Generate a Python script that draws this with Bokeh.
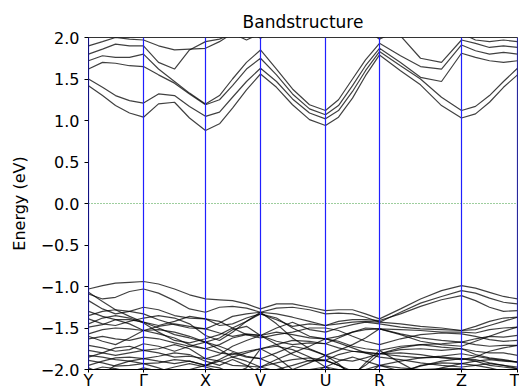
from bokeh.plotting import figure
from bokeh.models import Span, FixedTicker, CustomJSTickFormatter, Range1d
from bokeh.embed import file_html
from bokeh.resources import INLINE

# high-symmetry points
k_labels = ["Y", "Γ", "X", "V", "U", "R", "Z", "T"]
k_ticks = [0.0, 0.55, 1.17, 1.72, 2.37, 2.91, 3.73, 4.29]

# sampled k path (Y .. T)
k_path = [0.00, 0.14, 0.27, 0.41, 0.55, 0.70, 0.86, 1.01, 1.17, 1.31, 1.44, 1.58,
          1.72, 1.88, 2.04, 2.21, 2.37, 2.50, 2.64, 2.77, 2.91, 3.12, 3.32, 3.53,
          3.73, 3.87, 4.01, 4.15, 4.29]

cb1 = [1.42, 1.30, 1.18, 1.09, 1.04, 1.20, 1.22, 1.03, 0.88, 0.96, 1.15, 1.37, 1.56, 1.40, 1.19, 1.01,
       0.94, 1.04, 1.27, 1.54, 1.79, 1.60, 1.43, 1.18, 1.03, 1.08, 1.22, 1.40, 1.55]
cb2 = [1.50, 1.40, 1.30, 1.24, 1.21, 1.32, 1.30, 1.17, 1.05, 1.10, 1.28, 1.47, 1.63, 1.47, 1.26, 1.09,
       1.02, 1.12, 1.35, 1.60, 1.83, 1.66, 1.50, 1.28, 1.12, 1.17, 1.30, 1.47, 1.63]
cb3 = [1.62, 1.70, 1.69, 1.66, 1.65, 1.55, 1.45, 1.32, 1.19, 1.25, 1.42, 1.62, 1.75, 1.55, 1.32, 1.14,
       1.07, 1.18, 1.42, 1.66, 1.87, 1.70, 1.52, 1.47, 1.81, 1.76, 1.72, 1.70, 1.72]
cb4 = [1.72, 1.78, 1.76, 1.76, 1.80, 1.62, 1.47, 1.33, 1.20, 1.30, 1.50, 1.70, 1.85, 1.62, 1.38, 1.19,
       1.12, 1.25, 1.50, 1.73, 1.93, 1.78, 1.65, 1.62, 1.91, 1.84, 1.80, 1.82, 1.80]
cb5 = [1.80, 1.86, 1.92, 1.90, 1.90, 1.70, 1.62, 1.85, 1.95, 1.98, 2.05, 1.97, 2.05, 2.20, 2.40, 2.50,
       2.50, 2.50, 2.40, 2.20, 2.30, 2.02, 1.75, 1.70, 1.97, 1.93, 1.88, 1.90, 1.88]
cb6 = [1.90, 1.95, 2.00, 1.98, 1.97, 1.90, 1.85, 1.86, 1.87, 1.95, 2.05, 2.10, 1.99, 2.10, 2.30, 2.50,
       2.50, 2.50, 2.30, 2.10, 1.98, 2.10, 2.20, 2.10, 2.05, 1.97, 1.95, 1.97, 1.95]
conduction_bands = [cb1, cb2, cb3, cb4, cb5, cb6]

vb1 = [-1.03, -0.99, -0.96, -0.95, -0.94, -0.97, -1.03, -1.10, -1.15, -1.16, -1.17, -1.21, -1.27, -1.21, -1.21, -1.25,
       -1.29, -1.28, -1.28, -1.33, -1.39, -1.27, -1.15, -1.05, -0.99, -1.02, -1.07, -1.12, -1.15]
vb2 = [-1.09, -1.15, -1.13, -1.06, -1.03, -1.08, -1.17, -1.27, -1.31, -1.25, -1.24, -1.26, -1.31, -1.26, -1.25, -1.28,
       -1.33, -1.32, -1.33, -1.37, -1.43, -1.31, -1.20, -1.12, -1.05, -1.08, -1.14, -1.19, -1.21]
vb3 = [-1.17, -1.27, -1.33, -1.30, -1.25, -1.28, -1.35, -1.38, -1.39, -1.47, -1.45, -1.38, -1.33, -1.40, -1.48, -1.45,
       -1.47, -1.42, -1.40, -1.40, -1.41, -1.33, -1.24, -1.16, -1.11, -1.17, -1.25, -1.30, -1.29]
vb4 = [-1.35, -1.30, -1.28, -1.30, -1.33, -1.40, -1.46, -1.50, -1.51, -1.56, -1.60, -1.57, -1.59, -1.50, -1.43, -1.52,
       -1.55, -1.50, -1.46, -1.43, -1.45, -1.49, -1.51, -1.52, -1.53, -1.48, -1.42, -1.38, -1.37]
vb5 = [-1.39, -1.45, -1.47, -1.42, -1.38, -1.35, -1.38, -1.45, -1.59, -1.65, -1.55, -1.42, -1.33, -1.38, -1.50, -1.60,
       -1.63, -1.60, -1.55, -1.52, -1.51, -1.52, -1.53, -1.55, -1.55, -1.56, -1.52, -1.50, -1.49]
vb6 = [-1.49, -1.46, -1.40, -1.40, -1.43, -1.50, -1.58, -1.62, -1.67, -1.62, -1.52, -1.48, -1.59, -1.66, -1.70, -1.68,
       -1.69, -1.62, -1.55, -1.50, -1.51, -1.57, -1.62, -1.65, -1.67, -1.63, -1.60, -1.61, -1.59]
vb7 = [-1.57, -1.52, -1.50, -1.51, -1.53, -1.57, -1.62, -1.70, -1.75, -1.70, -1.62, -1.58, -1.59, -1.55, -1.58, -1.62,
       -1.63, -1.66, -1.72, -1.75, -1.77, -1.72, -1.70, -1.69, -1.67, -1.70, -1.72, -1.71, -1.71]
vb8 = [-1.63, -1.60, -1.63, -1.65, -1.61, -1.63, -1.68, -1.72, -1.75, -1.80, -1.82, -1.78, -1.75, -1.70, -1.65, -1.66,
       -1.69, -1.74, -1.78, -1.79, -1.81, -1.76, -1.75, -1.77, -1.75, -1.78, -1.80, -1.80, -1.83]
vb9 = [-1.71, -1.74, -1.78, -1.76, -1.69, -1.72, -1.78, -1.72, -1.67, -1.72, -1.78, -1.84, -1.87, -1.80, -1.72, -1.76,
       -1.83, -1.88, -1.90, -1.86, -1.81, -1.84, -1.86, -1.84, -1.81, -1.84, -1.87, -1.89, -1.91]
vb10 = [-1.77, -1.80, -1.83, -1.80, -1.77, -1.80, -1.85, -1.84, -1.87, -1.90, -1.95, -1.96, -1.97, -1.92, -1.88, -1.86,
        -1.89, -1.95, -2.02, -2.00, -1.95, -1.90, -1.86, -1.85, -1.87, -1.90, -1.95, -1.97, -1.99]
vb11 = [-1.83, -1.85, -1.88, -1.90, -1.87, -1.90, -1.93, -1.90, -1.95, -1.98, -2.05, -1.98, -1.75, -1.72, -1.76, -1.85,
        -1.97, -2.05, -2.10, -2.05, -2.10, -2.05, -1.95, -1.92, -1.93, -1.95, -1.98, -2.02, -2.05]
vb12 = [-1.89, -1.92, -1.96, -1.95, -1.93, -1.92, -1.88, -1.90, -1.95, -1.90, -1.85, -1.80, -1.75, -1.85, -2.00, -1.92,
        -1.83, -1.93, -2.08, -1.92, -1.77, -1.92, -2.05, -1.98, -1.93, -1.90, -1.88, -1.90, -1.91]
vb13 = [-1.95, -1.90, -1.86, -1.85, -1.87, -1.84, -1.80, -1.82, -1.90, -1.95, -1.88, -1.95, -2.05, -2.00, -1.95, -1.89,
        -1.89, -1.82, -1.78, -1.80, -1.85, -1.88, -1.92, -1.95, -1.97, -1.95, -1.93, -1.95, -1.97]
vb14 = [-2.02, -1.97, -1.99, -2.03, -1.98, -2.02, -1.97, -1.93, -1.97, -2.02, -2.08, -2.05, -1.97, -2.02, -2.10, -2.05,
        -1.97, -2.00, -2.05, -2.08, -1.95, -1.98, -2.00, -1.99, -1.99, -2.02, -2.00, -2.02, -2.03]
vb15 = [-1.07, -1.18, -1.28, -1.36, -1.43, -1.47, -1.42, -1.36, -1.39, -1.42, -1.50, -1.58, -1.62, -1.58, -1.55, -1.50,
        -1.50, -1.53, -1.60, -1.66, -1.70, -1.63, -1.58, -1.56, -1.57, -1.60, -1.64, -1.66, -1.65]
vb16 = [-1.45, -1.38, -1.35, -1.38, -1.44, -1.55, -1.65, -1.68, -1.63, -1.58, -1.50, -1.42, -1.31, -1.45, -1.62, -1.75,
        -1.83, -1.77, -1.70, -1.62, -1.51, -1.58, -1.66, -1.70, -1.72, -1.66, -1.60, -1.54, -1.49]
vb17 = [-1.60, -1.66, -1.70, -1.62, -1.53, -1.52, -1.55, -1.60, -1.67, -1.76, -1.85, -1.90, -1.97, -1.88, -1.80, -1.72,
        -1.63, -1.68, -1.74, -1.80, -1.81, -1.80, -1.82, -1.86, -1.88, -1.85, -1.78, -1.74, -1.71]
vb18 = [-1.85, -1.80, -1.74, -1.72, -1.77, -1.75, -1.70, -1.75, -1.87, -1.82, -1.72, -1.65, -1.59, -1.70, -1.82, -1.90,
        -1.89, -1.95, -2.05, -1.95, -1.81, -1.74, -1.70, -1.73, -1.75, -1.82, -1.86, -1.88, -1.91]
vb19 = [-1.98, -2.05, -1.95, -1.90, -1.93, -1.98, -2.05, -2.00, -1.95, -1.88, -1.80, -1.85, -1.87, -1.95, -2.05, -2.00,
        -1.97, -1.90, -1.85, -1.90, -1.95, -2.02, -1.96, -1.90, -1.87, -1.88, -1.92, -1.95, -1.99]
vb20 = [-1.30, -1.36, -1.40, -1.45, -1.53, -1.48, -1.45, -1.48, -1.51, -1.44, -1.36, -1.33, -1.31, -1.33, -1.37, -1.42,
        -1.47, -1.45, -1.43, -1.42, -1.43, -1.45, -1.48, -1.50, -1.53, -1.52, -1.47, -1.42, -1.37]
valence_bands = [vb1, vb2, vb3, vb4, vb5, vb6, vb7, vb8, vb9, vb10, vb11, vb12, vb13, vb14,
                 vb15, vb16, vb17, vb18, vb19, vb20]

energy_ticks = [-2.0, -1.5, -1.0, -0.5, 0.0, 0.5, 1.0, 1.5, 2.0]

p = figure(width=519, height=392, output_backend="svg", toolbar_location=None,
           title="Bandstructure", x_range=Range1d(k_ticks[0], k_ticks[-1]), y_range=Range1d(-2, 2),
           min_border_left=88, min_border_right=2, min_border_top=37, min_border_bottom=20)
p.background_fill_color = "white"
p.border_fill_color = "white"
p.xgrid.grid_line_color = None
p.ygrid.grid_line_color = None
p.outline_line_color = "black"
p.outline_line_alpha = 0.8

p.title.align = "center"
p.title.text_font = "DejaVu Sans"
p.title.text_font_size = "17px"
p.title.text_font_style = "normal"
p.title.text_color = "black"
p.title.standoff = 11

for band in conduction_bands + valence_bands:
    p.line(k_path, band, line_color="black", line_width=1.2, line_alpha=0.75)

for k in k_ticks:
    p.add_layout(Span(location=k, dimension="height", line_color="#2020ff", line_width=1.2,
                      line_alpha=1.0, level="overlay"))
p.add_layout(Span(location=0, dimension="width", line_color="#3c9c3c", line_width=1,
                  line_dash="1 2", line_alpha=1.0))

p.yaxis.ticker = FixedTicker(ticks=energy_ticks)
p.yaxis.formatter = CustomJSTickFormatter(code="return tick.toFixed(1).replace('-', '\u2212');")
p.yaxis.axis_label = "Energy (eV)"
p.yaxis.axis_label_text_font = "DejaVu Sans"
p.yaxis.axis_label_text_font_size = "16px"
p.yaxis.axis_label_text_font_style = "normal"
p.yaxis.axis_label_text_color = "black"
p.yaxis.axis_label_standoff = 9
p.xaxis.ticker = FixedTicker(ticks=k_ticks)
p.xaxis.major_label_overrides = {k: lab for k, lab in zip(k_ticks, k_labels)}
for ax in (p.xaxis, p.yaxis):
    ax.major_label_text_font = "DejaVu Sans"
    ax.major_label_text_font_size = "16px"
    ax.major_label_text_color = "black"
    ax.minor_tick_line_color = None
    ax.major_tick_in = 0
    ax.axis_line_color = "black"
p.yaxis.major_tick_out = 4
p.yaxis.major_label_standoff = 5
p.xaxis.major_tick_out = 3
p.xaxis.major_label_standoff = -2

open("out.html", "w").write(file_html(p, INLINE))
